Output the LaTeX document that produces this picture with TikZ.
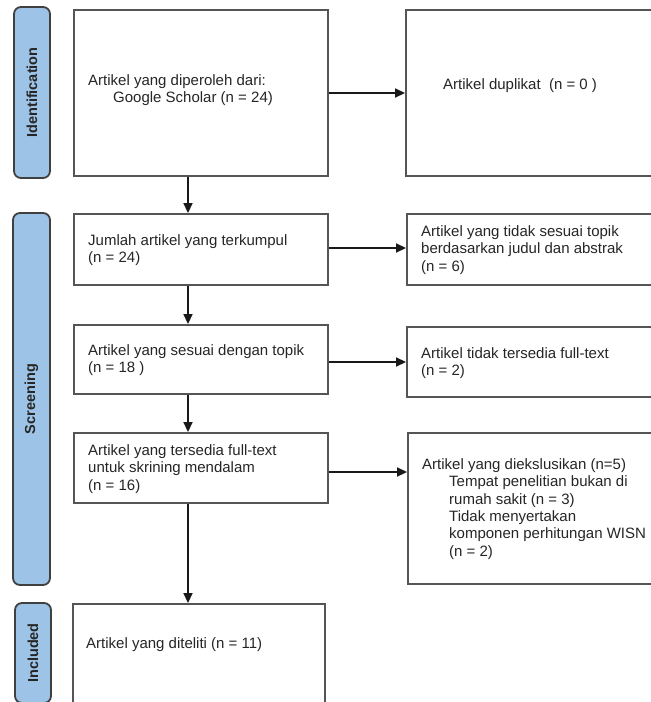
\documentclass[tikz,border=0pt]{standalone}
\usepackage{fontspec}
\setmainfont{Liberation Sans}
\usetikzlibrary{arrows.meta}
\definecolor{lblfill}{HTML}{9DC3E6}
\definecolor{lbldraw}{HTML}{404040}
\definecolor{boxgray}{HTML}{555555}
\definecolor{txtgray}{HTML}{262626}
\begin{document}
\begin{tikzpicture}[x=1pt,y=-1pt,
  stage/.style={draw=lbldraw, fill=lblfill, line width=1.8pt, rounded corners=7pt,
    rotate=90, inner sep=0pt, font=\bfseries\fontsize{14.5pt}{16pt}\selectfont, text=txtgray},
  boxnode/.style={draw=boxgray, line width=1.9pt, inner sep=0pt, rectangle},
  txt/.style={anchor=west, align=left, inner sep=0pt, text=txtgray,
    font=\fontsize{15pt}{17.3pt}\selectfont},
  arr/.style={draw=black!90, line width=1.7pt, -{Triangle[length=10pt,width=9pt]}}
]
\useasboundingbox (0,0) rectangle (651,702);
\clip (0,0) rectangle (651,702);
\fill[white] (0,0) rectangle (651,702);

% stage labels
\node[stage, minimum width=171pt, minimum height=36pt] (sid) at (32,92.5) {Identification};
\node[stage, minimum width=372pt, minimum height=37pt] (ssc) at (31.5,399) {Screening};
\node[stage, minimum width=100pt, minimum height=36pt] (sin) at (33,653) {Included};

% left column boxes
\node[boxnode, minimum width=254pt, minimum height=166pt] (b1) at (201,93) {};
\node[boxnode, minimum width=254pt, minimum height=71pt] (b2) at (201,249.5) {};
\node[boxnode, minimum width=254pt, minimum height=69pt] (b3) at (201,359.5) {};
\node[boxnode, minimum width=254pt, minimum height=70pt] (b4) at (201,468) {};
\node[boxnode, minimum width=252pt, minimum height=104pt] (b5) at (199,656) {};

% right column boxes
\node[boxnode, minimum width=250pt, minimum height=166pt] (dup) at (531,93) {};
\node[boxnode, minimum width=249pt, minimum height=71pt] (r1) at (531.5,249.5) {};
\node[boxnode, minimum width=249pt, minimum height=70pt] (r2) at (531.5,362) {};
\node[boxnode, minimum width=248pt, minimum height=151pt] (r3) at (532,508.5) {};

% texts
\node[txt] (t1) at (88,90) {Artikel yang diperoleh dari:\\\hspace*{25pt}Google Scholar (n = 24)};
\node[txt] (tdup) at (443,86) {Artikel duplikat\ \ (n = 0 )};
\node[txt] (t2) at (88,250) {Jumlah artikel yang terkumpul\\(n = 24)};
\node[txt] (t3) at (88,360) {Artikel yang sesuai dengan topik\\(n = 18 )};
\node[txt] (t4) at (88,469) {Artikel yang tersedia full-text\\untuk skrining mendalam\\(n = 16)};
\node[txt] (t5) at (86,645) {Artikel yang diteliti (n = 11)};
\node[txt] (tr1) at (421,250) {Artikel yang tidak sesuai topik\\berdasarkan judul dan abstrak\\(n = 6)};
\node[txt] (tr2) at (421,363) {Artikel tidak tersedia full-text\\(n = 2)};
\node[txt] (tr3) at (422,509) {Artikel yang diekslusikan (n=5)\\
  \hspace*{27pt}Tempat penelitian bukan di\\
  \hspace*{27pt}rumah sakit (n = 3)\\
  \hspace*{27pt}Tidak menyertakan\\
  \hspace*{27pt}komponen perhitungan WISN\\
  \hspace*{27pt}(n = 2)};

% connectors
\coordinate (col) at (188,0);
\draw[arr] (b1.south -| col) -- (b2.north -| col);
\draw[arr] (b2.south -| col) -- (b3.north -| col);
\draw[arr] (b3.south -| col) -- (b4.north -| col);
\draw[arr] (b4.south -| col) -- (b5.north -| col);
\draw[arr] (b1.east) -- (dup.west);
\draw[arr] ([yshift=1.5pt]b2.east) -- ([yshift=1.5pt]b2.east -| r1.west);
\draw[arr] (r2.west -| b3.east) -- (r2.west);
\draw[arr] ([yshift=-4pt]b4.east) -- ([yshift=-4pt]b4.east -| r3.west);
\end{tikzpicture}
\end{document}
